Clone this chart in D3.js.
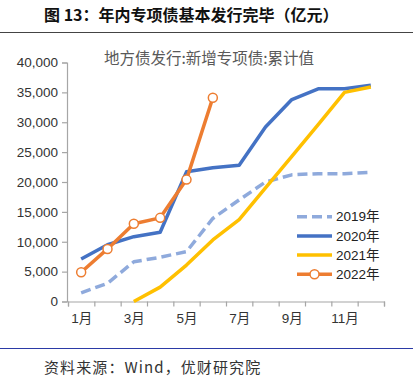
<!DOCTYPE html>
<html><head><meta charset="utf-8">
<script src="https://cdn.jsdelivr.net/npm/d3@7"></script>
<style>
body{margin:0;background:#fff;}
svg{display:block;}
</style></head>
<body><svg id="c" width="420" height="390"></svg>
<script>
const months = ["1月","2月","3月","4月","5月","6月","7月","8月","9月","10月","11月","12月"];
const yTicks = [0,5000,10000,15000,20000,25000,30000,35000,40000];
const s2019 = [1450,3050,6650,7400,8350,13900,17000,20000,21200,21400,21400,21600];
const s2020 = [7100,9500,10850,11600,21700,22400,22800,29200,33800,35600,35600,36200];
const s2021 = [null,null,0,2400,6100,10300,13700,19000,24300,29600,35000,35900];
const s2022 = [4900,8800,13000,14000,20400,34100];
const seriesNames = ["2019年","2020年","2021年","2022年"];
const colors = ["#8faadc","#4472c4","#ffc000","#ed7d31"];

const svg = d3.select("#c");
const cjk = "'Noto Sans CJK SC', sans-serif";
const lat = "'Liberation Sans','Noto Sans CJK SC', sans-serif";

// header
svg.append("text").attr("x",44).attr("y",21).attr("font-family",cjk).attr("font-weight","bold")
  .attr("font-size",16).attr("fill","#111").text("图 13：年内专项债基本发行完毕（亿元）");
svg.append("line").attr("x1",0).attr("x2",413).attr("y1",32.5).attr("y2",32.5).attr("stroke","#444").attr("stroke-width",1.2);
svg.append("line").attr("x1",0).attr("x2",413).attr("y1",348.5).attr("y2",348.5).attr("stroke","#2b3aa6").attr("stroke-width",1.2);
svg.append("text").attr("x",44).attr("y",373).attr("font-family",cjk).attr("font-size",15)
  .attr("letter-spacing",1.1).attr("fill","#333").text("资料来源：Wind，优财研究院");

// scales
const x = d3.scaleLinear().domain([0.5,12.5]).range([68,384]);
const y = d3.scaleLinear().domain([0,40000]).range([301.5,62.5]);

// plot title
svg.append("text").attr("x",209).attr("y",64).attr("text-anchor","middle").attr("font-family",cjk)
  .attr("font-size",15.5).attr("fill","#595959").text("地方债发行:新增专项债:累计值");

// y axis
const ya = svg.append("g").attr("transform","translate(67,0)")
  .call(d3.axisLeft(y).tickValues(yTicks).tickSize(5).tickPadding(4).tickFormat(d3.format(",")));
ya.select(".domain").attr("stroke","#a6a6a6").attr("stroke-width",1.2);
ya.selectAll(".tick line").attr("stroke","#a6a6a6").attr("stroke-width",1.2);
ya.selectAll("text").attr("font-family",lat).attr("font-size",13.5).attr("fill","#333");

// x axis ticks (boundaries)
const xb = svg.append("g").attr("transform","translate(0,301.5)")
  .call(d3.axisBottom(x).tickValues(d3.range(0.5,12.6,1)).tickSize(5).tickFormat(""));
xb.select(".domain").attr("stroke","#a6a6a6").attr("stroke-width",1.2);
xb.selectAll(".tick line").attr("stroke","#a6a6a6").attr("stroke-width",1.2);
// x labels
const xl = svg.append("g").attr("transform","translate(0,301.5)")
  .call(d3.axisBottom(x).tickValues([1,3,5,7,9,11]).tickSize(0).tickPadding(12).tickFormat(d=>months[d-1]));
xl.select(".domain").remove();
xl.selectAll("text").attr("font-family",lat).attr("font-size",13.5).attr("fill","#333");

// lines
const line = d3.line().defined(d=>d[1]!==null).x(d=>x(d[0])).y(d=>y(d[1]));
const all = [s2019,s2020,s2021,s2022];
all.forEach((s,i)=>{
  const pts = s.map((v,j)=>[j+1,v]);
  const p = svg.append("path").datum(pts).attr("d",line).attr("fill","none")
    .attr("stroke",colors[i]).attr("stroke-width",3.5).attr("stroke-linejoin","round");
  if(i===0) p.attr("stroke-dasharray","10,5");
});
svg.selectAll("circle.m").data(s2022.map((v,j)=>[j+1,v])).enter().append("circle")
  .attr("cx",d=>x(d[0])).attr("cy",d=>y(d[1])).attr("r",4.5)
  .attr("fill","#fff").attr("stroke",colors[3]).attr("stroke-width",1.5);

// legend
const lg = svg.append("g");
seriesNames.forEach((n,i)=>{
  const yy = 216.7 + i*19.2;
  const l = lg.append("line").attr("x1",297).attr("x2",332).attr("y1",yy).attr("y2",yy)
    .attr("stroke",colors[i]).attr("stroke-width",3.5);
  if(i===0) l.attr("stroke-dasharray","10,5");
  if(i===3) lg.append("circle").attr("cx",314.5).attr("cy",yy).attr("r",4.5)
    .attr("fill","#fff").attr("stroke",colors[3]).attr("stroke-width",1.5);
  lg.append("text").attr("x",336).attr("y",yy).attr("dy","0.35em").attr("font-family",lat)
    .attr("font-size",13.5).attr("fill","#222").text(n);
});
</script></body></html>
